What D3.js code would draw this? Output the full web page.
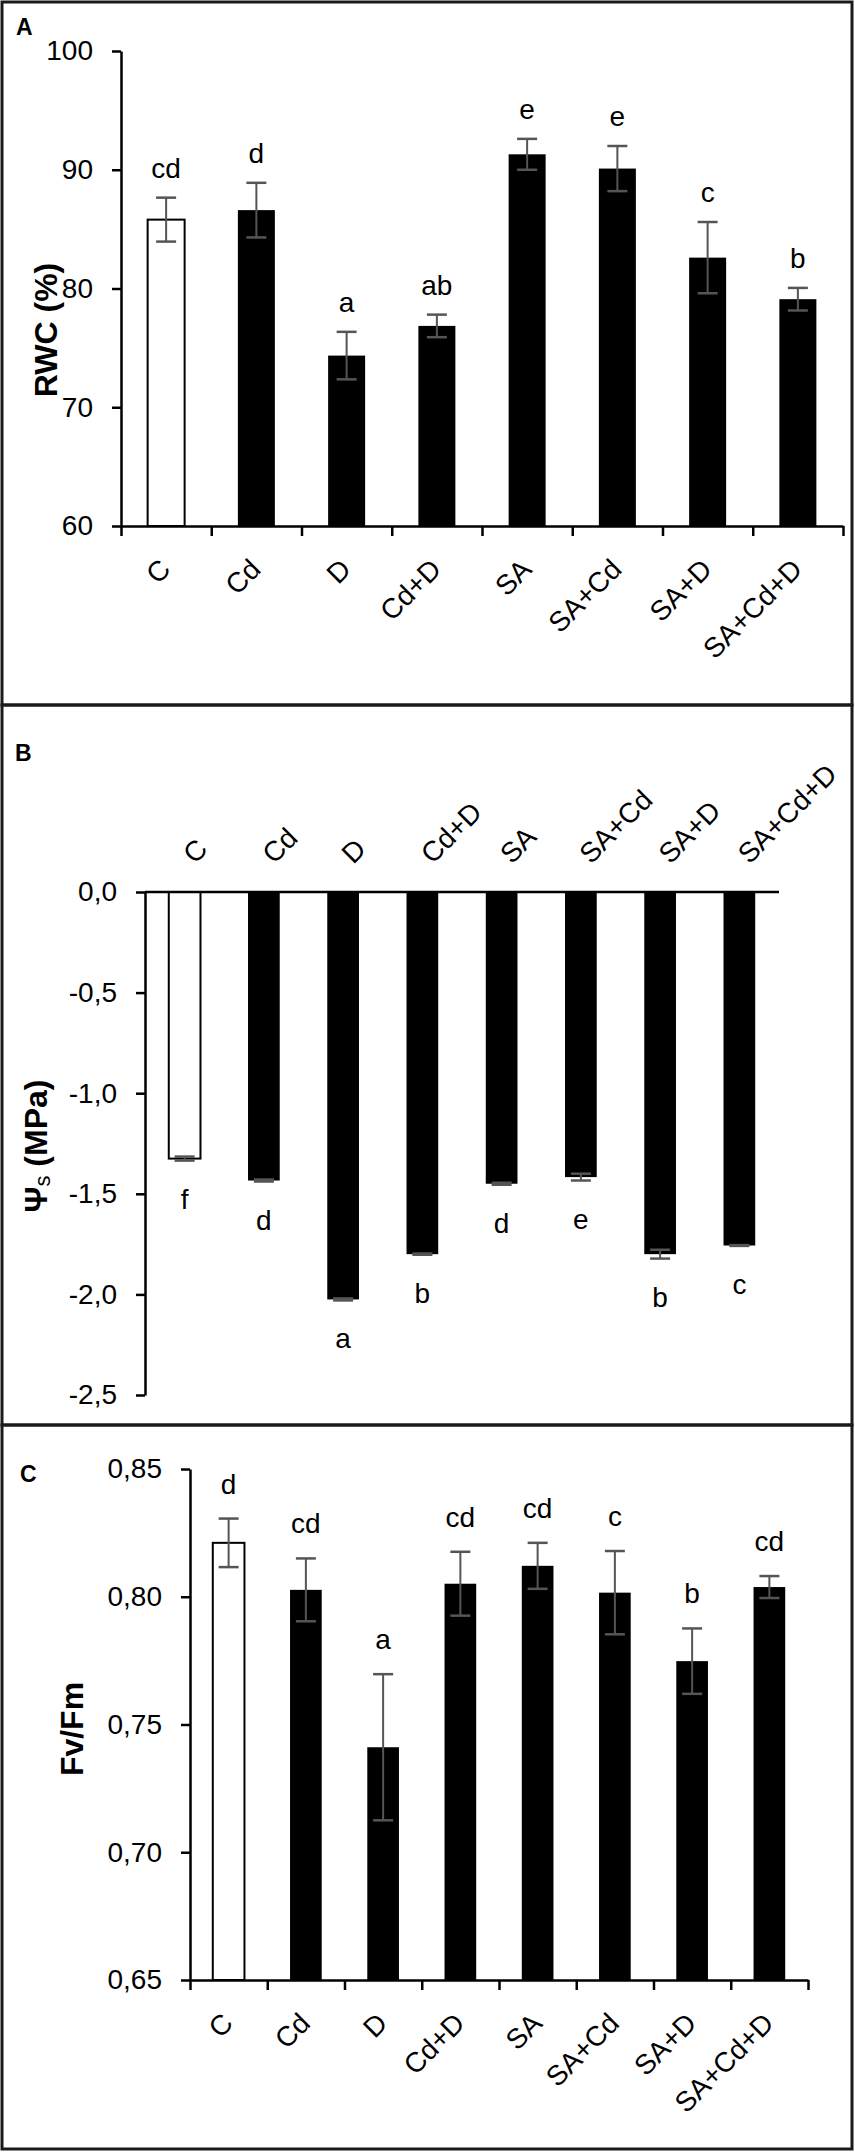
<!DOCTYPE html>
<html>
<head>
<meta charset="utf-8">
<script src="https://cdn.jsdelivr.net/npm/d3@7"></script>
<style>
  body { margin: 0; background: #fff; }
  svg { display: block; font-family: "Liberation Sans", Arial, sans-serif; }
</style>
</head>
<body>
<div id="chart"></div>
<script>
// treatments, same for the three panels
const categories = ["C", "Cd", "D", "Cd+D", "SA", "SA+Cd", "SA+D", "SA+Cd+D"];

// A - relative water content
const rwcMean = [85.8, 86.6, 74.35, 76.85, 91.3, 90.1, 82.6, 79.1];
const rwcErr = [1.85, 2.3, 2.0, 0.95, 1.3, 1.9, 3.0, 0.95];
const rwcLetters = ["cd", "d", "a", "ab", "e", "e", "c", "b"];
const rwcTicks = [60, 70, 80, 90, 100];

// B - osmotic potential
const psiMean = [-1.325, -1.434, -2.025, -1.80, -1.45, -1.417, -1.80, -1.757];
const psiErr = [0.01, 0.005, 0.005, 0.003, 0.005, 0.017, 0.022, 0.002];
const psiLetters = ["f", "d", "a", "b", "d", "e", "b", "c"];
const psiTicks = [0, -0.5, -1.0, -1.5, -2.0, -2.5];

// C - Fv/Fm
const fvMean = [0.8211, 0.8027, 0.7411, 0.8051, 0.8121, 0.8016, 0.7748, 0.8038];
const fvErr = [0.0095, 0.0123, 0.0286, 0.0125, 0.009, 0.0163, 0.0128, 0.0043];
const fvLetters = ["d", "cd", "a", "cd", "cd", "c", "b", "cd"];
const fvTicks = [0.65, 0.70, 0.75, 0.80, 0.85];

const W = 855, H = 2152;
const FONT = 28;
const ERRCOL = "#555";

const comma = d3.formatLocale({decimal: ",", thousands: ".", grouping: [3], currency: ["", ""], minus: "-"});

const svg = d3.select("#chart").append("svg")
  .attr("width", W).attr("height", H)
  .attr("viewBox", `0 0 ${W} ${H}`);

svg.append("rect").attr("width", W).attr("height", H).attr("fill", "#fff");

// panel frames
[[2, 705], [705, 1425], [1425, 2149]].forEach(([y0, y1]) => {
  svg.append("rect")
    .attr("x", 2).attr("y", y0).attr("width", 850).attr("height", y1 - y0)
    .attr("fill", "none").attr("stroke", "#1a1a1a").attr("stroke-width", 3);
});

function styleAxis(g){
  g.selectAll("path.domain").attr("stroke", "#000").attr("stroke-width", 2.5);
  g.selectAll(".tick line").attr("stroke", "#000").attr("stroke-width", 2.5);
  g.selectAll(".tick text")
    .attr("font-size", FONT)
    .attr("font-family", "Liberation Sans, Arial, sans-serif")
    .attr("fill", "#000");
}

function yAxis(g, y, ticks, fmt){
  g.call(d3.axisLeft(y).tickValues(ticks).tickFormat(fmt)
    .tickSize(9).tickSizeOuter(0).tickPadding(19));
  styleAxis(g);
}

function drawErr(g, x, yTop, yBot){
  g.append("line").attr("x1", x).attr("x2", x).attr("y1", yTop).attr("y2", yBot)
    .attr("stroke", ERRCOL).attr("stroke-width", 2);
  [yTop, yBot].forEach(yy => {
    g.append("line").attr("x1", x - 10).attr("x2", x + 10).attr("y1", yy).attr("y2", yy)
      .attr("stroke", ERRCOL).attr("stroke-width", 2.5);
  });
}

function panelTitle(label, x, y){
  svg.append("text").attr("x", x).attr("y", y)
    .attr("font-size", 23).attr("font-weight", "bold").text(label);
}

function yTitle(g, x, y, build){
  let t = g.append("text")
    .attr("transform", `translate(${x},${y}) rotate(-90)`)
    .attr("text-anchor", "middle")
    .attr("font-size", 32).attr("font-weight", "bold");
  build(t);
}

// bar panel growing upward from the bottom of the y axis (A and C)
function upPanel(opt){
  const g = svg.append("g");
  const x = d3.scaleBand().domain(categories).range(opt.xr);
  const y = d3.scaleLinear().domain(opt.ydom).range(opt.yr);
  const bw = x.step() * 0.41;

  categories.forEach((c, i) => {
    const cx = x(c) + x.bandwidth() / 2;
    const m = opt.mean[i], e = opt.err[i];
    g.append("rect")
      .attr("x", cx - bw / 2).attr("y", y(m))
      .attr("width", bw).attr("height", y(opt.ydom[0]) - y(m))
      .attr("fill", i === 0 ? "#fff" : "#000")
      .attr("stroke", "#000").attr("stroke-width", i === 0 ? 2 : 0);
    drawErr(g, cx, y(m + e), y(m - e));
    g.append("text")
      .attr("x", cx).attr("y", y(m + e) - opt.letterGap)
      .attr("text-anchor", "middle").attr("font-size", FONT)
      .text(opt.letters[i]);
    // rotated category label under the axis
    g.append("text")
      .attr("transform", `translate(${cx + 6},${y(opt.ydom[0]) + 45}) rotate(-45)`)
      .attr("text-anchor", "end").attr("font-size", FONT)
      .text(c);
  });

  // x axis: ticks on band edges
  const xe = d3.scaleLinear().domain([0, categories.length]).range(opt.xr);
  const gx = g.append("g").attr("transform", `translate(0,${y(opt.ydom[0])})`)
    .call(d3.axisBottom(xe).tickValues(d3.range(categories.length + 1))
      .tickFormat("").tickSize(10).tickSizeOuter(0));
  styleAxis(gx);

  const gy = g.append("g").attr("transform", `translate(${opt.xr[0]},0)`);
  yAxis(gy, y, opt.ticks, opt.fmt);
  return g;
}

// A
const gA = upPanel({
  xr: [121, 843], ydom: [60, 100], yr: [526, 51],
  mean: rwcMean, err: rwcErr, letters: rwcLetters, letterGap: 20,
  ticks: rwcTicks, fmt: d3.format("d")
});
yTitle(gA, 57, 330, t => t.text("RWC (%)"));
panelTitle("A", 16, 35);

// C
const gC = upPanel({
  xr: [190, 808], ydom: [0.65, 0.85], yr: [1980, 1469],
  mean: fvMean, err: fvErr, letters: fvLetters, letterGap: 25,
  ticks: fvTicks, fmt: comma.format(".2f")
});
yTitle(gC, 83, 1729, t => t.text("Fv/Fm"));
panelTitle("C", 20, 1482);

// B - bars hanging down from zero, labels above
(function(){
  const g = svg.append("g");
  const x = d3.scaleBand().domain(categories).range([145, 779]);
  const y = d3.scaleLinear().domain([0, -2.5]).range([892, 1395]);
  const bw = x.step() * 0.4;

  categories.forEach((c, i) => {
    const cx = x(c) + x.bandwidth() / 2;
    const m = psiMean[i], e = psiErr[i];
    g.append("rect")
      .attr("x", cx - bw / 2).attr("y", y(0))
      .attr("width", bw).attr("height", y(m) - y(0))
      .attr("fill", i === 0 ? "#fff" : "#000")
      .attr("stroke", "#000").attr("stroke-width", i === 0 ? 2 : 0);
    drawErr(g, cx, y(m + e), y(m - e));
    g.append("text")
      .attr("x", cx).attr("y", y(m - e) + 48)
      .attr("text-anchor", "middle").attr("font-size", FONT)
      .text(psiLetters[i]);
    g.append("text")
      .attr("transform", `translate(${cx + 10},${y(0) - 27}) rotate(-45)`)
      .attr("text-anchor", "start").attr("font-size", FONT)
      .text(c);
  });

  g.append("line")
    .attr("x1", x.range()[0]).attr("x2", x.range()[1])
    .attr("y1", y(0)).attr("y2", y(0))
    .attr("stroke", "#000").attr("stroke-width", 2.5);

  const gy = g.append("g").attr("transform", "translate(145,0)");
  yAxis(gy, y, psiTicks, comma.format(".1f"));

  yTitle(g, 47, 1146, t => {
    t.append("tspan").text("\u03A8");
    t.append("tspan").attr("font-size", 22).attr("font-weight", "normal")
      .attr("dy", 3).text("s");
    t.append("tspan").attr("dy", -3).text(" (MPa)");
  });
  panelTitle("B", 15, 761);
})();
</script>
</body>
</html>
